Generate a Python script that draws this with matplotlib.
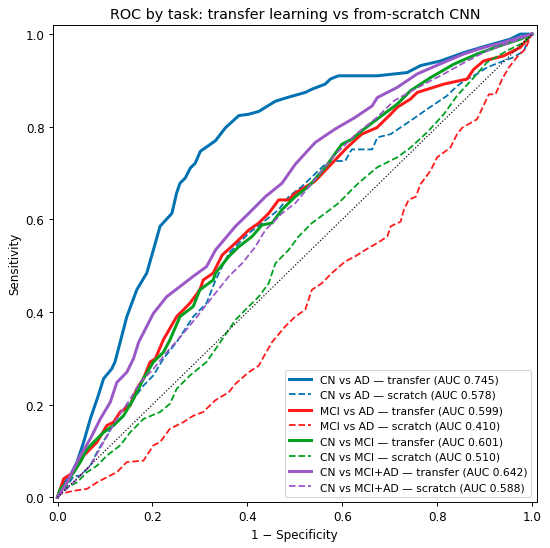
import matplotlib
matplotlib.use('Agg')
import matplotlib.pyplot as plt

# ROC curves: (false positive rate, true positive rate)
ad_tl_fpr = [0, 0.006, 0.017, 0.027, 0.041, 0.055, 0.069, 0.086, 0.097, 0.114, 0.121, 0.132, 0.146, 0.167,
             0.188, 0.202, 0.216, 0.241, 0.251, 0.258, 0.269, 0.28, 0.29, 0.301, 0.315, 0.333, 0.354, 0.382,
             0.403, 0.424, 0.459, 0.484, 0.522, 0.536, 0.564, 0.575, 0.592, 0.674, 0.737, 0.765, 0.807, 0.856,
             0.905, 0.954, 0.975, 1.0]
ad_tl_tpr = [0, 0.018, 0.034, 0.047, 0.076, 0.119, 0.169, 0.220, 0.256, 0.277, 0.292, 0.335, 0.390, 0.448,
             0.484, 0.534, 0.585, 0.613, 0.657, 0.678, 0.689, 0.711, 0.721, 0.747, 0.757, 0.770, 0.798, 0.824,
             0.827, 0.833, 0.855, 0.863, 0.874, 0.881, 0.892, 0.903, 0.910, 0.910, 0.917, 0.932, 0.942, 0.960,
             0.975, 0.989, 1.0, 1.0]

ad_sc_fpr = [0, 0.020, 0.034, 0.048, 0.069, 0.083, 0.104, 0.132, 0.160, 0.181, 0.202, 0.223, 0.251, 0.286,
             0.314, 0.333, 0.361, 0.403, 0.431, 0.466, 0.487, 0.515, 0.564, 0.585, 0.606, 0.620, 0.663, 0.674,
             0.702, 0.744, 0.779, 0.821, 0.842, 0.863, 0.884, 0.905, 0.940, 0.961, 0.983, 0.996, 1.0]
ad_sc_tpr = [0, 0.025, 0.045, 0.047, 0.068, 0.097, 0.133, 0.184, 0.212, 0.241, 0.263, 0.299, 0.335, 0.390,
             0.419, 0.469, 0.527, 0.570, 0.592, 0.621, 0.649, 0.671, 0.719, 0.726, 0.726, 0.751, 0.751, 0.777,
             0.784, 0.813, 0.838, 0.867, 0.888, 0.903, 0.914, 0.928, 0.942, 0.950, 0.964, 1.0, 1.0]

mci_ad_tl_fpr = [0, 0.013, 0.034, 0.055, 0.062, 0.083, 0.104, 0.118, 0.132, 0.153, 0.167, 0.181, 0.195, 0.206,
                 0.223, 0.251, 0.279, 0.300, 0.307, 0.328, 0.347, 0.375, 0.403, 0.424, 0.445, 0.466, 0.487,
                 0.501, 0.536, 0.543, 0.610, 0.641, 0.673, 0.702, 0.716, 0.744, 0.758, 0.814, 0.863, 0.877,
                 0.898, 0.940, 0.975, 0.996, 1.0]
mci_ad_tl_tpr = [0, 0.040, 0.054, 0.090, 0.097, 0.119, 0.155, 0.162, 0.184, 0.198, 0.234, 0.256, 0.292, 0.299,
                 0.340, 0.390, 0.419, 0.448, 0.469, 0.484, 0.523, 0.549, 0.577, 0.592, 0.613, 0.642, 0.642,
                 0.657, 0.678, 0.683, 0.755, 0.784, 0.798, 0.827, 0.842, 0.860, 0.874, 0.892, 0.903, 0.924,
                 0.942, 0.953, 0.971, 0.996, 1.0]

mci_ad_sc_fpr = [0, 0.006, 0.034, 0.062, 0.083, 0.111, 0.125, 0.146, 0.181, 0.202, 0.216, 0.237, 0.265, 0.286,
                 0.307, 0.332, 0.361, 0.375, 0.403, 0.424, 0.438, 0.452, 0.480, 0.501, 0.522, 0.536, 0.557,
                 0.578, 0.606, 0.627, 0.655, 0.674, 0.695, 0.702, 0.723, 0.730, 0.740, 0.755, 0.765, 0.786,
                 0.800, 0.828, 0.842, 0.853, 0.884, 0.909, 0.923, 0.937, 0.951, 0.968, 0.986, 0.996, 1.0]
mci_ad_sc_tpr = [0, 0.007, 0.014, 0.018, 0.032, 0.047, 0.054, 0.076, 0.079, 0.112, 0.119, 0.148, 0.162, 0.176,
                 0.184, 0.209, 0.227, 0.245, 0.270, 0.284, 0.310, 0.335, 0.369, 0.390, 0.405, 0.448, 0.462,
                 0.484, 0.509, 0.520, 0.538, 0.549, 0.563, 0.585, 0.595, 0.621, 0.642, 0.649, 0.676, 0.705,
                 0.734, 0.755, 0.784, 0.798, 0.816, 0.870, 0.870, 0.903, 0.928, 0.950, 0.968, 0.993, 1.0]

mci_tl_fpr = [0, 0.006, 0.020, 0.048, 0.062, 0.083, 0.097, 0.118, 0.139, 0.160, 0.181, 0.202, 0.223, 0.237,
              0.258, 0.286, 0.300, 0.328, 0.333, 0.361, 0.382, 0.410, 0.431, 0.452, 0.473, 0.501, 0.529, 0.564,
              0.599, 0.620, 0.641, 0.669, 0.716, 0.744, 0.786, 0.835, 0.884, 0.933, 0.975, 1.0]
mci_tl_tpr = [0, 0.018, 0.032, 0.076, 0.104, 0.126, 0.140, 0.155, 0.176, 0.212, 0.256, 0.292, 0.313, 0.340,
              0.390, 0.412, 0.448, 0.469, 0.484, 0.520, 0.541, 0.563, 0.588, 0.592, 0.621, 0.649, 0.671, 0.712,
              0.762, 0.773, 0.791, 0.813, 0.849, 0.878, 0.906, 0.935, 0.957, 0.975, 0.989, 1.0]

mci_sc_fpr = [0, 0.013, 0.041, 0.062, 0.083, 0.104, 0.132, 0.153, 0.181, 0.216, 0.237, 0.251, 0.279, 0.314,
              0.333, 0.375, 0.403, 0.424, 0.445, 0.459, 0.487, 0.508, 0.536, 0.564, 0.592, 0.620, 0.634, 0.673,
              0.716, 0.744, 0.779, 0.814, 0.842, 0.877, 0.905, 0.947, 0.983, 1.0]
mci_sc_tpr = [0, 0.018, 0.032, 0.054, 0.068, 0.090, 0.112, 0.140, 0.169, 0.184, 0.202, 0.234, 0.263, 0.292,
              0.320, 0.383, 0.412, 0.433, 0.462, 0.505, 0.534, 0.563, 0.592, 0.613, 0.635, 0.664, 0.678, 0.712,
              0.734, 0.755, 0.788, 0.827, 0.867, 0.906, 0.939, 0.964, 0.982, 1.0]

any_tl_fpr = [0, 0.020, 0.048, 0.069, 0.090, 0.111, 0.125, 0.146, 0.160, 0.171, 0.202, 0.230, 0.258, 0.286,
              0.314, 0.333, 0.375, 0.403, 0.438, 0.473, 0.501, 0.543, 0.585, 0.627, 0.663, 0.674, 0.716, 0.758,
              0.814, 0.856, 0.898, 0.940, 0.975, 1.0]
any_tl_tpr = [0, 0.032, 0.090, 0.126, 0.169, 0.205, 0.248, 0.270, 0.299, 0.335, 0.397, 0.433, 0.455, 0.477,
              0.498, 0.534, 0.585, 0.613, 0.649, 0.678, 0.719, 0.766, 0.795, 0.820, 0.845, 0.863, 0.885, 0.914,
              0.939, 0.957, 0.971, 0.982, 0.993, 1.0]

any_sc_fpr = [0, 0.034, 0.069, 0.097, 0.125, 0.153, 0.174, 0.202, 0.230, 0.258, 0.290, 0.333, 0.361, 0.389,
              0.417, 0.438, 0.473, 0.501, 0.536, 0.585, 0.630, 0.673, 0.709, 0.760, 0.814, 0.860, 0.905, 0.950, 1.0]
any_sc_tpr = [0, 0.032, 0.068, 0.119, 0.169, 0.212, 0.248, 0.277, 0.313, 0.345, 0.385, 0.441, 0.477, 0.505,
              0.541, 0.577, 0.613, 0.635, 0.678, 0.740, 0.785, 0.820, 0.856, 0.885, 0.914, 0.940, 0.964, 0.980, 1.0]

labels = [
    'CN vs AD — transfer (AUC 0.745)',
    'CN vs AD — scratch (AUC 0.578)',
    'MCI vs AD — transfer (AUC 0.599)',
    'MCI vs AD — scratch (AUC 0.410)',
    'CN vs MCI — transfer (AUC 0.601)',
    'CN vs MCI — scratch (AUC 0.510)',
    'CN vs MCI+AD — transfer (AUC 0.642)',
    'CN vs MCI+AD — scratch (AUC 0.588)',
]
curves = [
    (ad_tl_fpr, ad_tl_tpr), (ad_sc_fpr, ad_sc_tpr),
    (mci_ad_tl_fpr, mci_ad_tl_tpr), (mci_ad_sc_fpr, mci_ad_sc_tpr),
    (mci_tl_fpr, mci_tl_tpr), (mci_sc_fpr, mci_sc_tpr),
    (any_tl_fpr, any_tl_tpr), (any_sc_fpr, any_sc_tpr),
]
colors = ['#0072B2', '#0072B2', '#FF1A1A', '#FF1A1A', '#00A020', '#00A020', '#9B59C6', '#9B59C6']

fig = plt.figure(figsize=(6.4, 6.388), dpi=550 / 6.4)
ax = fig.add_subplot(111)
fig.subplots_adjust(left=0.096, right=0.976, bottom=0.084, top=0.953)

for i, (fpr, tpr) in enumerate(curves):
    if i % 2 == 0:
        ax.plot(fpr, tpr, color=colors[i], lw=2.5, label=labels[i])
    else:
        ax.plot(fpr, tpr, color=colors[i], lw=1.5, ls='--', label=labels[i])

ax.plot([0, 1], [0, 1], color='black', lw=1, ls=':')
ax.set_xlim(-0.01, 1.01)
ax.set_ylim(-0.01, 1.02)
ax.set_xlabel('1 − Specificity')
ax.set_ylabel('Sensitivity')
ax.set_title('ROC by task: transfer learning vs from-scratch CNN')
ax.legend(loc='lower right', fontsize=9)

fig.savefig('out.png')
